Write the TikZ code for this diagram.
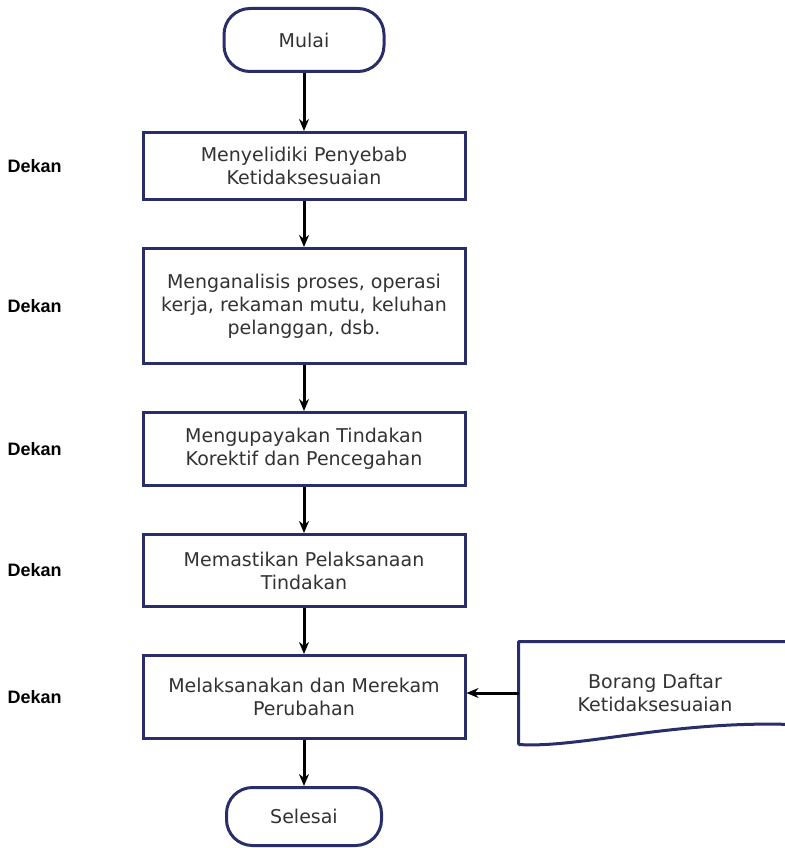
\documentclass[tikz,border=0pt]{standalone}
\usepackage{fontspec}
\setmainfont{DejaVu Sans}
\newfontfamily\labelfont{Liberation Sans}
\usetikzlibrary{arrows.meta,positioning,calc}
\definecolor{boxline}{RGB}{42,46,104}
\definecolor{boxtext}{RGB}{50,50,50}

\begin{document}
\begin{tikzpicture}[x=1pt,y=-1pt,>={Stealth[length=12pt,width=10pt]},
                    node distance=46pt,line width=3pt,
                    proses/.style={rectangle,draw=boxline,text=boxtext,align=center,
                      font=\fontsize{19}{23}\selectfont,minimum width=322pt,inner sep=0pt},
                    terminal/.style={proses,rounded corners=26pt,minimum width=160pt},
                    flow/.style={->,black},
                    pelaksana/.style={font=\labelfont\bfseries\fontsize{18}{21}\selectfont}]
  \useasboundingbox (0,0) rectangle (784,848);
  \node[terminal,minimum height=63pt] (start) at (304,40) {Mulai};
  \node[proses,minimum height=67pt] (b1) [below=58pt of start] {Menyelidiki Penyebab\\Ketidaksesuaian};
  \node[proses,minimum height=115pt] (b2) [below=of b1] {Menganalisis proses, operasi\\kerja, rekaman mutu, keluhan\\pelanggan, dsb.};
  \node[proses,minimum height=73pt] (b3) [below=of b2] {Mengupayakan Tindakan\\Korektif dan Pencegahan};
  \node[proses,minimum height=72pt] (b4) [below=of b3] {Memastikan Pelaksanaan\\Tindakan};
  \node[proses,minimum height=83pt] (b5) [below=of b4] {Melaksanakan dan Merekam\\Perubahan};
  \node[terminal,minimum height=58pt,minimum width=155pt] (end) [below=of b5] {Selesai};

  % dokumen di kanan
  \node[text=boxtext,align=center,font=\fontsize{19}{23}\selectfont,
        minimum width=270pt,minimum height=100pt,inner sep=0pt] (doc) [right=52pt of b5,yshift=4pt]
        {Borang Daftar\\Ketidaksesuaian};
  \draw[boxline,line join=round] (doc.south west) -- (doc.north west) -- (doc.north east)
    -- ([yshift=20pt]doc.south east)
    .. controls ($(doc.south east)+(-120,-24)$) and ($(doc.south west)+(60,4)$) .. (doc.south west);

  % pelaksana
  \foreach \i in {1,...,5}
    \node[pelaksana] (dekan\i) [left=75pt of b\i] {Dekan};

  \path[flow]
    (start) edge (b1)
    (b1) edge (b2)
    (b2) edge (b3)
    (b3) edge (b4)
    (b4) edge (b5)
    (b5) edge (end)
    (doc.west) edge (doc.west -| b5.east);
\end{tikzpicture}
\end{document}
